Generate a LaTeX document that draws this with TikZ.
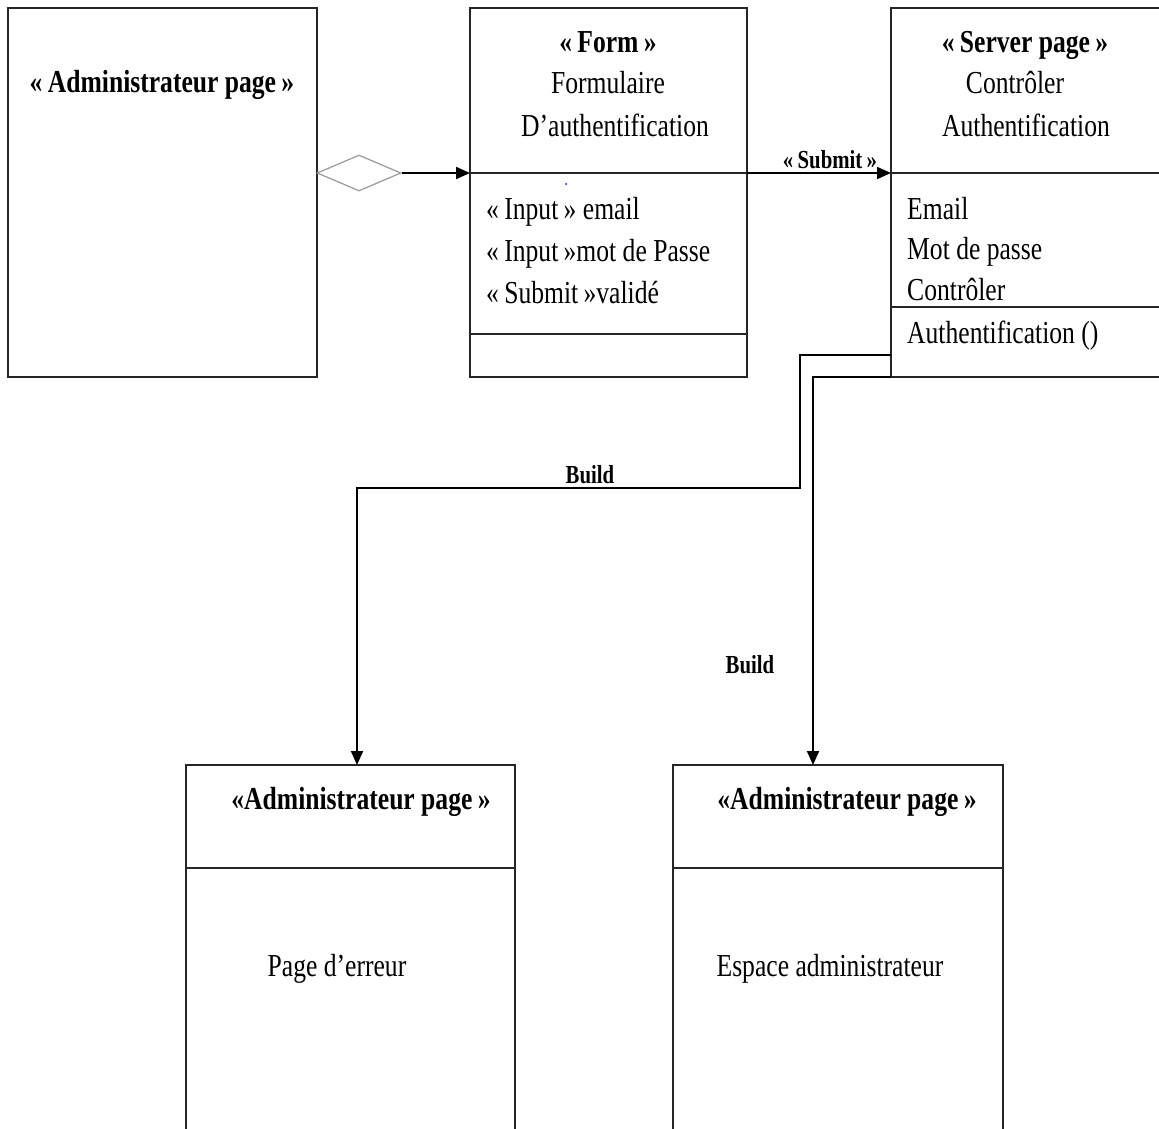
\documentclass[tikz,border=0pt]{standalone}
\usepackage{fontspec}
\setmainfont[FakeStretch=0.8]{Liberation Serif}
\usetikzlibrary{arrows.meta,shapes.geometric}
\begin{document}
\begin{tikzpicture}[x=1pt,y=-1pt,
  box/.style={draw=black!85, line width=2pt, anchor=north west, inner sep=0pt, outer sep=0pt},
  sep/.style={draw=black!85, line width=2pt},
  txt/.style={font=\fontsize{32}{38}\selectfont, inner sep=0pt, anchor=base},
  ltxt/.style={txt, anchor=base west},
  btxt/.style={font=\fontsize{32}{38}\selectfont\bfseries, inner sep=0pt, anchor=base},
  lbl/.style={font=\fontsize{26}{30}\selectfont\bfseries, inner sep=0pt, anchor=base},
  arr/.style={draw=black, line width=2pt, -{Triangle[length=14pt,width=12pt]}},
  conn/.style={draw=black!85, line width=2pt}
]
\useasboundingbox (0,0) rectangle (1159,1128);
\clip (0,0) rectangle (1159,1128);

% boxes
\node[box, minimum width=309pt, minimum height=369pt] (adm) at (8,8) {};
\node[box, minimum width=277pt, minimum height=369pt] (form) at (470,8) {};
\node[box, minimum width=280pt, minimum height=369pt] (srv) at (891,8) {};
\node[box, minimum width=329pt, minimum height=420pt] (err) at (186,765) {};
\node[box, minimum width=330pt, minimum height=420pt] (esp) at (673,765) {};

% dividers
\draw[sep] (form.west |- 0,173) -- (form.east |- 0,173);
\draw[sep] (form.west |- 0,334) -- (form.east |- 0,334);
\draw[sep] (srv.west |- 0,173) -- (srv.east |- 0,173);
\draw[sep] (srv.west |- 0,307) -- (srv.east |- 0,307);
\draw[sep] (err.west |- 0,868) -- (err.east |- 0,868);
\draw[sep] (esp.west |- 0,868) -- (esp.east |- 0,868);

% texts
\node[btxt] (t1) at (162,92) {«\,Administrateur page\,»};

\node[btxt] (t2) at (608,52) {«\,Form\,»};
\node[txt] (t3) at (608,93) {Formulaire};
\node[txt] (t4) at (615,136) {D’authentification};
\node[ltxt] (t5) at (486,219) {«\,Input\,» email};
\node[ltxt] (t6) at (486,261) {«\,Input\,»mot de Passe};
\node[ltxt] (t7) at (486,303) {«\,Submit\,»validé};
\fill[blue] (566,184) circle (1pt);

\node[btxt] (t8) at (1025,52) {«\,Server page\,»};
\node[txt] (t9) at (1015,93) {Contrôler};
\node[txt] (t10) at (1026,136) {Authentification};
\node[ltxt] (t11) at (907,219) {Email};
\node[ltxt] (t12) at (907,259) {Mot de passe};
\node[ltxt] (t13) at (907,300) {Contrôler};
\node[ltxt] (t14) at (907,343) {Authentification ()};

\node[btxt] (t15) at (361,809) {«Administrateur page\,»};
\node[txt] (t16) at (337,976) {Page d’erreur};
\node[btxt] (t17) at (847,809) {«Administrateur page\,»};
\node[txt] (t18) at (830,976) {Espace administrateur};

% aggregation diamond and arrows
\node[diamond, draw=black!40, line width=1.2pt, minimum width=84pt, minimum height=36pt, inner sep=0pt] (dia) at (359,173) {};
\draw[arr] (dia.east) -- (form.west |- dia.east);
\draw[arr] (form.east |- 0,173) -- (srv.west |- 0,173);
\node[lbl] (l1) at (830,168) {«\,Submit\,»};

% build connectors
\coordinate (c1) at (800,355);
\coordinate (c2) at (800,488);
\coordinate (c3) at (357,488);
\draw[arr] (srv.west |- c1) -- (c1) -- (c2) -- (c3) -- (err.north -| c3);
\node[lbl] (l2) at (590,483) {Build};

\coordinate (d1) at (813,377);
\draw[arr] (srv.south west) -- (d1) -- (esp.north -| d1);
\node[lbl] (l3) at (750,673) {Build};
\end{tikzpicture}
\end{document}
